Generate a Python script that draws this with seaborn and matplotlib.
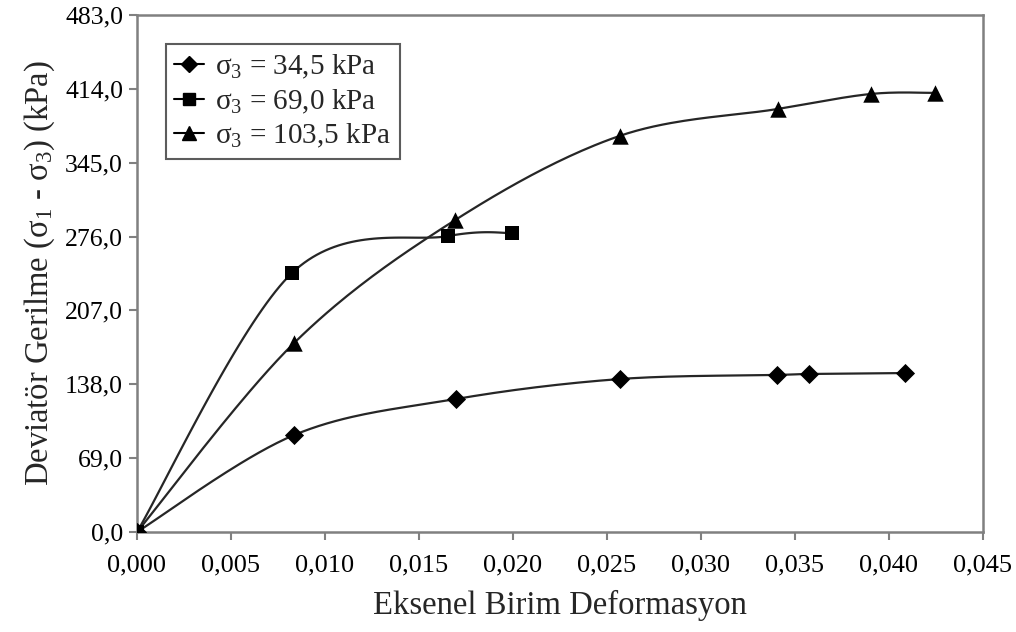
import numpy as np
import pandas as pd
import seaborn as sns
from matplotlib import pyplot as plt
from matplotlib.lines import Line2D
from matplotlib.ticker import FuncFormatter

# values
strain_345 = [0.0, 0.00836, 0.01699, 0.02567, 0.03403, 0.03573, 0.04085]
stress_345 = [0.0, 90.6, 124.3, 142.9, 146.7, 147.6, 148.5]

strain_690 = [0.0, 0.00825, 0.01656, 0.01997]
stress_690 = [0.0, 242.0, 276.5, 279.3]

strain_1035 = [0.0, 0.00836, 0.01693, 0.02567, 0.03408, 0.03903, 0.04244]
stress_1035 = [0.0, 176.6, 291.5, 370.0, 395.2, 409.2, 410.2]

series_labels = ['σ$_3$ = 34,5 kPa', 'σ$_3$ = 69,0 kPa', 'σ$_3$ = 103,5 kPa']
y_ticks = [0, 69, 138, 207, 276, 345, 414, 483]
x_ticks = [0.0, 0.005, 0.010, 0.015, 0.020, 0.025, 0.030, 0.035, 0.040, 0.045]


# smooth line through the points like a spreadsheet "smoothed line"
def smooth_curve(x, y, n=40):
    p = np.column_stack([x, y])
    out = [p[0]]
    for i in range(len(p) - 1):
        p0 = p[i - 1] if i > 0 else p[i]
        p1, p2 = p[i], p[i + 1]
        p3 = p[i + 2] if i + 2 < len(p) else p[i + 1]
        c1 = p1 + (p2 - p0) / 6
        c2 = p2 - (p3 - p1) / 6
        t = np.linspace(0, 1, n)[1:, None]
        seg = ((1 - t) ** 3) * p1 + 3 * ((1 - t) ** 2) * t * c1 + 3 * (1 - t) * t ** 2 * c2 + t ** 3 * p2
        out.extend(seg)
    out = np.array(out)
    return out[:, 0], out[:, 1]


sns.set_theme(style='white')
plt.rcParams['font.family'] = ['Liberation Serif', 'DejaVu Serif']
plt.rcParams['mathtext.fontset'] = 'custom'
plt.rcParams['mathtext.rm'] = 'Liberation Serif'
plt.rcParams['mathtext.it'] = 'Liberation Serif:italic'

frames = {
    series_labels[0]: pd.DataFrame({'strain': strain_345, 'stress': stress_345}),
    series_labels[1]: pd.DataFrame({'strain': strain_690, 'stress': stress_690}),
    series_labels[2]: pd.DataFrame({'strain': strain_1035, 'stress': stress_1035}),
}

fig = plt.figure(figsize=(10.16, 6.32), dpi=100)
ax = fig.add_axes([0.1348, 0.1582, 0.8327, 0.8181])

markers = {series_labels[0]: 'D', series_labels[1]: 's', series_labels[2]: '^'}
msize = {series_labels[0]: 95, series_labels[1]: 100, series_labels[2]: 140}
hsize = {series_labels[0]: 8, series_labels[1]: 8.5, series_labels[2]: 10}

for lab in series_labels:
    sub = frames[lab]
    sx, sy = smooth_curve(sub['strain'].values, sub['stress'].values)
    ax.plot(sx, sy, color='#262626', lw=1.6, zorder=2)
    sns.scatterplot(data=sub, x='strain', y='stress', marker=markers[lab], color='black',
                    s=msize[lab], linewidth=0, legend=False, ax=ax, zorder=3)

ax.set_xlim(0, 0.045)
ax.set_ylim(0, 483)
ax.set_xticks(x_ticks)
ax.set_yticks(y_ticks)
ax.xaxis.set_major_formatter(FuncFormatter(lambda v, p: f'{v:.3f}'.replace('.', ',')))
ax.yaxis.set_major_formatter(FuncFormatter(lambda v, p: f'{v:.1f}'.replace('.', ',')))
ax.tick_params(axis='both', direction='out', length=6, width=1.5, color='#808080',
               labelcolor='black', bottom=True, left=True)
ax.tick_params(axis='y', labelsize=18.5, pad=4)
ax.tick_params(axis='x', labelsize=19, pad=10)

for s in ax.spines.values():
    s.set_color('#808080')
    s.set_linewidth(1.8)

ax.set_xlabel('Eksenel Birim Deformasyon', fontsize=23.5, labelpad=10)
ax.set_ylabel('Deviatör Gerilme (σ$_1$ - σ$_3$) (kPa)', fontsize=23.5, labelpad=6)

handles = [Line2D([0], [0], color='black', lw=1.5, marker=markers[lab],
                  markersize=hsize[lab], markerfacecolor='black', markeredgecolor='black')
           for lab in series_labels]
leg = ax.legend(handles, series_labels, loc='upper left', bbox_to_anchor=(0.034, 0.944),
                borderaxespad=0, fontsize=21, frameon=True, fancybox=False, handlelength=1.0,
                handletextpad=0.4, borderpad=0.3, labelspacing=0.22)
leg.get_frame().set_edgecolor('#333333')
leg.get_frame().set_linewidth(1.5)

fig.savefig('out.png', dpi=100)
